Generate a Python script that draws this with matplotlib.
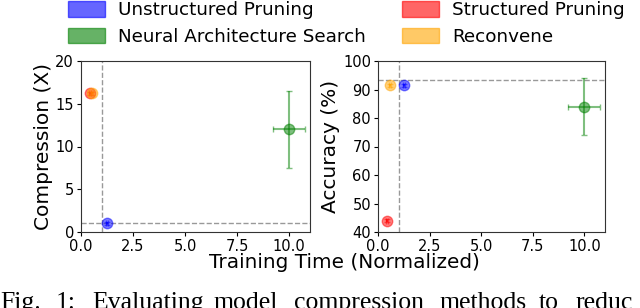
import matplotlib
matplotlib.use("Agg")
import matplotlib.pyplot as plt
from matplotlib.patches import Patch

methods = ["Unstructured Pruning", "Structured Pruning", "Neural Architecture Search", "Reconvene"]
colors = ["blue", "red", "green", "orange"]
train_time = [1.25, 0.45, 10.0, 0.55]
train_time_acc = [1.25, 0.45, 10.0, 0.6]
train_time_err = [0.05, 0.05, 0.78, 0.05]
compression = [1.0, 16.2, 12.0, 16.2]
compression_err = [0.2, 0.2, 4.5, 0.2]
accuracy = [91.5, 44.0, 84.0, 91.5]
accuracy_err = [0.5, 0.5, 10.0, 0.5]
baseline_time = 1.0
baseline_comp = 1.0
baseline_acc = 93.5

caption_words = ["Fig.", "1:", "Evaluating", "model", "compression", "methods", "to", "reduc"]
caption_x = [0, 56, 92, 214, 294, 440, 539, 575]

fig = plt.figure(figsize=(6.4, 3.08), dpi=100)
W, H = 640, 308
ax1 = fig.add_axes([81 / W, 1 - 232 / H, (310 - 81) / W, (232 - 61) / H])
ax2 = fig.add_axes([378 / W, 1 - 232 / H, (605 - 378) / W, (232 - 61) / H])

for ax, ys, yerr, xs, base in [(ax1, compression, compression_err, train_time, baseline_comp),
                               (ax2, accuracy, accuracy_err, train_time_acc, baseline_acc)]:
    ax.axvline(baseline_time, color="gray", ls="--", lw=1, alpha=0.8, zorder=1)
    ax.axhline(base, color="gray", ls="--", lw=1, alpha=0.8, zorder=1)
    for x, y, xe, ye, c in zip(xs, ys, train_time_err, yerr, colors):
        ax.errorbar(x, y, xerr=xe, yerr=ye, fmt="o", color=c, ecolor=c, alpha=0.5,
                    markersize=7.5, capsize=2, elinewidth=1.5, zorder=3)
    ax.set_xlim(0, 11)
    ax.set_xticks([0, 2.5, 5, 7.5, 10])
    ax.set_xticklabels(["0.0", "2.5", "5.0", "7.5", "10.0"])
    ax.tick_params(labelsize=10.5, length=3, pad=2)
    for s in ax.spines.values():
        s.set_color("#333333")

ax1.set_ylim(0, 20)
ax1.set_yticks([0, 5, 10, 15, 20])
ax2.set_ylim(40, 100)
ax2.set_yticks([40, 50, 60, 70, 80, 90, 100])
ax1.set_ylabel("Compression (X)", fontsize=14.5, labelpad=2)
ax2.set_ylabel("Accuracy (%)", fontsize=14.5, labelpad=2)
fig.text(344 / W, 1 - 263 / H, "Training Time (Normalized)", fontsize=14.4, ha="center", va="center")

handles = [Patch(facecolor=c, edgecolor=c, alpha=0.6) for c in colors]
order = [0, 2, 1, 3]
fig.legend([handles[i] for i in order], [methods[i] for i in order], ncol=2,
           loc="upper left", bbox_to_anchor=(61 / W, 1 + 6 / H), frameon=False,
           fontsize=13.2, handlelength=2.0, handleheight=0.9, columnspacing=2.0,
           labelspacing=0.45, handletextpad=0.7, borderaxespad=0)

for w, x in zip(caption_words, caption_x):
    fig.text(x / W, 1 - 309 / H, w, fontsize=18.5, family="Liberation Serif",
             ha="left", va="baseline")

fig.savefig("out.png", dpi=100)
